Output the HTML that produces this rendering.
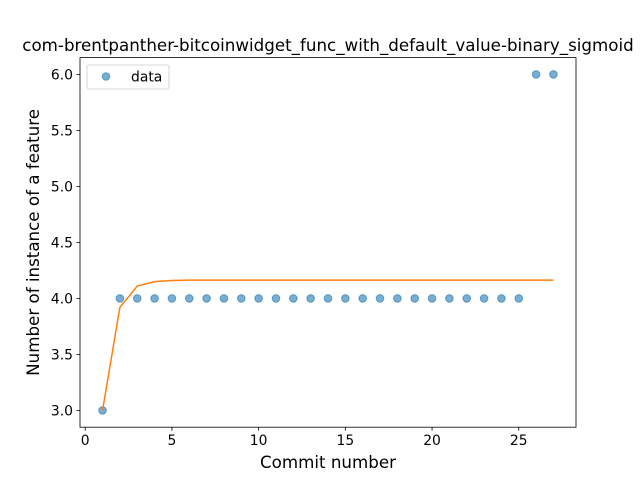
<!DOCTYPE html>
<html><head><meta charset="utf-8"><style>
body{margin:0;background:#fff}
svg{display:block;font-family:"DejaVu Sans","Liberation Sans",sans-serif}
</style></head><body>
<svg id="chart" width="640" height="480">
<rect x="0" y="0" width="640" height="480" fill="#fff"/>
<g id="plot"></g>
</svg>
<script>
const commits=[1,2,3,4,5,6,7,8,9,10,11,12,13,14,15,16,17,18,19,20,21,22,23,24,25,26,27];
const dataValues=[3,4,4,4,4,4,4,4,4,4,4,4,4,4,4,4,4,4,4,4,4,4,4,4,4,6,6];
const fitValues=[3.0,3.92,4.11,4.15,4.16,4.163,4.163,4.163,4.163,4.163,4.163,4.163,4.163,4.163,4.163,4.163,4.163,4.163,4.163,4.163,4.163,4.163,4.163,4.163,4.163,4.163,4.163];
const xTicks=[0,5,10,15,20,25];
const yTicks=[3.0,3.5,4.0,4.5,5.0,5.5,6.0];
const L=80,R=576,T=57.6,B=427.2;
const xmin=-0.3,xmax=28.3,ymin=2.85,ymax=6.15;
const X=v=>L+(v-xmin)/(xmax-xmin)*(R-L);
const Y=v=>B-(v-ymin)/(ymax-ymin)*(B-T);
const ns="http://www.w3.org/2000/svg";
const g=document.getElementById('plot');
function mk(tag,attrs,parent){const e=document.createElementNS(ns,tag);for(const k in attrs)e.setAttribute(k,attrs[k]);(parent||g).appendChild(e);return e;}
function txt(s,attrs){const e=mk('text',attrs);e.textContent=s;return e;}
const pts=mk('g',{});


commits.forEach((c,i)=>{const p=mk('circle',{cx:X(c),cy:Y(dataValues[i]),r:3.8,fill:'#1f77b4','fill-opacity':0.6,stroke:'#1f77b4','stroke-opacity':0.6,'stroke-width':1},pts);

});
const fl=mk('polyline',{points:commits.map((c,i)=>X(c)+','+Y(fitValues[i])).join(' '),fill:'none',stroke:'#ff7f0e','stroke-width':1.5});


const ax=mk('rect',{x:L,y:T,width:R-L,height:B-T,fill:'none',stroke:'#000','stroke-width':0.8});


xTicks.forEach(t=>{mk('line',{x1:X(t),x2:X(t),y1:B,y2:B+3.5,stroke:'#000','stroke-width':0.8});
const l=txt(String(t),{x:X(t),y:B+18,'font-size':13.9,'text-anchor':'middle'});

});
yTicks.forEach(t=>{mk('line',{x1:L-3.5,x2:L,y1:Y(t),y2:Y(t),stroke:'#000','stroke-width':0.8});
const l=txt(t.toFixed(1),{x:L-7,y:Y(t)+5,'font-size':13.9,'text-anchor':'end'});

});
const xt=txt('Commit number',{x:(L+R)/2,y:468,'font-size':16.7,'text-anchor':'middle'});


const yt=txt('Number of instance of a feature',{x:0,y:0,'font-size':16.7,'text-anchor':'middle',transform:`translate(39,${(T+B)/2}) rotate(-90)`});


const tt=txt('com-brentpanther-bitcoinwidget_func_with_default_value-binary_sigmoid',{x:328,y:51,'font-size':16.7,'text-anchor':'middle'});


const lg=mk('g',{});


mk('rect',{x:87,y:65,width:82,height:24,rx:2,fill:'#fff','fill-opacity':0.8,stroke:'#ccc','stroke-width':0.8},lg);
mk('circle',{cx:106,cy:76.5,r:3.8,fill:'#1f77b4','fill-opacity':0.6,stroke:'#1f77b4','stroke-opacity':0.6,'stroke-width':1},lg);
const lt=document.createElementNS(ns,'text');lt.setAttribute('x',131);lt.setAttribute('y',81.5);lt.setAttribute('font-size',13.9);lt.textContent='data';lg.appendChild(lt);


</script>
</body></html>
